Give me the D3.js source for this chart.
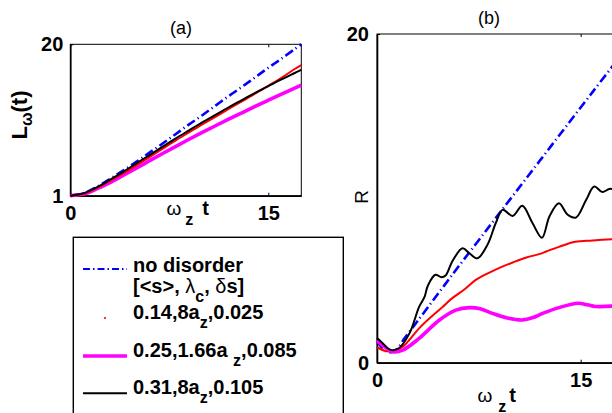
<!DOCTYPE html>
<html>
<head>
<meta charset="utf-8">
<script src="https://cdn.jsdelivr.net/npm/d3@7"></script>
<style>
  html, body { margin: 0; padding: 0; background: #fff; }
  svg { display: block; font-family: "Liberation Sans", Arial, Helvetica, sans-serif; }
  text { white-space: pre; }
</style>
</head>
<body>
<svg id="chart" width="612" height="413"></svg>
<script>
// ---------- panel (a): L_omega(t) against omega_z t ----------
const tA = [0, 1, 2, 3, 4, 5, 6, 7, 8, 9, 10, 11, 12, 13, 14, 15, 16, 17, 17.5];
const lNoDisorder = [1, 1.3, 2.1, 3.1, 4.15, 5.25, 6.4, 7.55, 8.75, 9.95, 11.1, 12.3, 13.5, 14.65, 15.85, 17.05, 18.2, 19.4, 20];
const lCase1 = [1, 1.25, 1.95, 2.85, 3.8, 4.8, 5.85, 6.9, 7.95, 8.95, 9.95, 10.9, 11.9, 12.85, 13.8, 14.8, 15.8, 16.9, 17.4];
const lCase2 = [1, 1.2, 1.85, 2.65, 3.55, 4.45, 5.38, 6.3, 7.2, 8.08, 8.94, 9.78, 10.6, 11.4, 12.2, 12.98, 13.75, 14.5, 14.88];
const lCase3 = [1, 1.3, 2.05, 3.0, 4.0, 5.05, 6.1, 7.15, 8.2, 9.2, 10.2, 11.15, 12.1, 13.0, 13.9, 14.75, 15.6, 16.4, 16.8];
const xTicksA = [0, 15];
const yTicksA = [1, 20];

// ---------- panel (b): R against omega_z t ----------
const tB0 = [0, 0.5, 0.9, 1.5, 2, 2.5, 3, 4, 5, 6, 8, 10, 12, 14, 16, 17.5];
const rNoDisorder = [1.3, 0.8, 0.62, 0.85, 1.45, 2.0, 2.55, 3.65, 4.75, 5.85, 8.0, 10.15, 12.3, 14.45, 16.6, 18.2];

const tB1 = [0, 0.6, 1.15, 1.9, 3.1, 4.0, 4.85, 5.5, 6.5, 7.3, 8.2, 9.1, 10.0, 11.0, 12.0, 12.5, 13.4, 14.6, 15.9, 17.5];
const rCase1 = [0.94, 0.72, 0.67, 0.97, 2.09, 2.8, 3.41, 3.9, 4.5, 5.05, 5.45, 5.8, 6.1, 6.4, 6.62, 6.78, 7.05, 7.36, 7.44, 7.52];

const tB2 = [0, 0.55, 1.15, 1.9, 3.1, 4.6, 5.8, 6.8, 7.6, 8.5, 9.6, 10.7, 11.5, 12.2, 13.4, 14.8, 15.5, 16.1, 17.5];
const rCase2 = [1.34, 0.97, 0.67, 0.77, 1.48, 2.6, 3.2, 3.35, 3.28, 3.0, 2.72, 2.6, 2.75, 3.0, 3.35, 3.62, 3.52, 3.42, 3.45];

const tB3 = [0, 0.4, 1.0, 1.6, 2.4, 3.1, 3.5, 3.75, 4.3, 4.75, 5.05, 5.57, 6.3, 6.8, 7.4, 8.15, 8.75, 9.25, 10.0, 10.7, 11.45, 12.15, 12.7, 13.4, 14.05, 14.65, 15.4, 16.0, 16.6, 17.1, 17.5];
const rCase3 = [1.5, 1.2, 0.78, 0.88, 1.8, 3.4, 4.0, 4.7, 5.35, 5.2, 5.3, 6.2, 6.96, 6.66, 6.35, 7.2, 8.5, 9.3, 8.93, 9.55, 8.5, 7.6, 8.9, 9.7, 9.0, 8.83, 9.9, 10.72, 10.38, 10.57, 10.55];
const xTicksB = [0, 15];
const yTicksB = [0, 20];

// ---------- legend ----------
const legendLabels = [
  "no disorder",
  "[<s>, λ_{c}, δs]",
  "0.14,8a_{z},0.025",
  "0.25,1.66a _{z},0.085",
  "0.31,8a_{z},0.105"
];

const svg = d3.select("#chart");

const colors = { none: "#0000ff", c1: "#ff0000", c2: "#ff00ff", c3: "#000000" };

const xA = d3.scaleLinear().domain([0, 17.5]).range([70.3, 301.3]);
const yA = d3.scaleLinear().domain([1, 20]).range([195.7, 44.3]);
const xB = d3.scaleLinear().domain([0, 17.5]).range([377, 614.6]);
const yB = d3.scaleLinear().domain([0, 20]).range([362.7, 34]);

function drawFrame(x, y, xt, yt, yPad) {
  const g = svg.append("g");
  const [x0, x1] = x.range();
  const [y0, y1] = y.range();
  g.append("rect")
    .attr("x", x0).attr("y", y1)
    .attr("width", x1 - x0).attr("height", y0 - y1)
    .attr("fill", "none").attr("stroke", "#000").attr("stroke-width", 1);

  const bottom = g.append("g").attr("transform", `translate(0,${y0})`)
    .call(d3.axisBottom(x).tickValues(xt).tickFormat(d3.format("d"))
      .tickSizeInner(-3).tickSizeOuter(0).tickPadding(10.3));
  const top = g.append("g").attr("transform", `translate(0,${y1})`)
    .call(d3.axisTop(x).tickValues(xt).tickFormat("").tickSizeInner(-3).tickSizeOuter(0));
  const left = g.append("g").attr("transform", `translate(${x0},0)`)
    .call(d3.axisLeft(y).tickValues(yt).tickFormat(d3.format("d"))
      .tickSizeInner(-3).tickSizeOuter(0).tickPadding(yPad));

  [bottom, left].forEach(a => {
    a.select(".domain").attr("stroke", "#000").attr("stroke-width", 1.6);
    a.selectAll(".tick line").attr("stroke", "#000");
    a.selectAll(".tick text")
      .attr("fill", "#000")
      .style("font-size", "20px")
      .style("font-weight", "bold")
      .style("font-family", "\"Liberation Sans\", Arial, sans-serif");
  });
  top.select(".domain").remove();
  top.selectAll(".tick line").attr("stroke", "#000");
  return g;
}

function drawSeries(x, y, ts, vs, color, width, dash) {
  const pts = ts.map((t, i) => [t, vs[i]]);
  const line = d3.line()
    .x(d => x(d[0])).y(d => y(d[1]))
    .curve(d3.curveCatmullRom.alpha(0.5));
  const p = svg.append("path")
    .datum(pts)
    .attr("d", line)
    .attr("fill", "none")
    .attr("stroke", color)
    .attr("stroke-width", width)
    .attr("stroke-linejoin", "round");
  if (dash) p.attr("stroke-dasharray", dash);
}

const dashDot = "9,3.5,1.2,3.5";

// panel (a)
drawFrame(xA, yA, xTicksA, yTicksA, 7);
drawSeries(xA, yA, tA, lNoDisorder, colors.none, 2.6, dashDot);
drawSeries(xA, yA, tA, lCase2, colors.c2, 3.6);
drawSeries(xA, yA, tA, lCase1, colors.c1, 2);
drawSeries(xA, yA, tA, lCase3, colors.c3, 2);

// panel (b)
drawFrame(xB, yB, xTicksB, yTicksB, 8);
drawSeries(xB, yB, tB0, rNoDisorder, colors.none, 2.6, dashDot);
drawSeries(xB, yB, tB1, rCase1, colors.c1, 2);
drawSeries(xB, yB, tB2, rCase2, colors.c2, 3.6);
drawSeries(xB, yB, tB3, rCase3, colors.c3, 2);

// titles
svg.append("text").attr("x", 181).attr("y", 33.5).attr("text-anchor", "middle")
  .style("font-size", "18px").text("(a)");
svg.append("text").attr("x", 489).attr("y", 24).attr("text-anchor", "middle")
  .style("font-size", "18px").text("(b)");

// x labels: omega_z t
function xLabel(x0, base, gap1, gap2) {
  const t = svg.append("text").attr("x", x0).attr("y", base);
  t.append("tspan").style("font-size", "19px").text("ω");
  t.append("tspan").attr("dx", gap1).attr("dy", 10)
    .style("font-size", "16px").style("font-weight", "bold").text("z");
  t.append("tspan").attr("dx", gap2).attr("dy", -10)
    .style("font-size", "20px").style("font-weight", "bold").text("t");
}
xLabel(166.5, 214.5, 4, 9);
xLabel(477.5, 402, 6, 3);

// y label of panel (a): L_omega(t)
{
  const t = svg.append("text")
    .attr("transform", "translate(27,115) rotate(-90)")
    .attr("text-anchor", "middle")
    .style("font-weight", "bold");
  t.append("tspan").style("font-size", "22px").text("L");
  t.append("tspan").attr("dy", 5).style("font-size", "16px").text("ω");
  t.append("tspan").attr("dy", -5).style("font-size", "22px").text("(t)");
}
// y label of panel (b)
svg.append("text")
  .attr("transform", "translate(368,197) rotate(-90)")
  .attr("text-anchor", "middle")
  .style("font-size", "19px")
  .text("R");

// legend box
const lg = svg.append("g");
lg.append("rect")
  .attr("x", 73.3).attr("y", 237.3)
  .attr("width", 270).attr("height", 220)
  .attr("fill", "#fff").attr("stroke", "#000").attr("stroke-width", 1.4);

const rowBase = [271.5, 292.5, 319, 357, 394];

function parseLabel(s) {
  const parts = s.split(/_\{([^}]*)\}/);
  const segs = [];
  parts.forEach((p, i) => {
    if (!p) return;
    if (i % 2 === 1) { segs.push({ text: p, sub: true, greek: false }); return; }
    // split ordinary text into Greek / non-Greek runs
    const runs = p.match(/[\u0370-\u03ff]+|[^\u0370-\u03ff]+/g);
    runs.forEach(r => segs.push({ text: r, sub: false, greek: /[\u0370-\u03ff]/.test(r) }));
  });
  return segs;
}

legendLabels.forEach((lab, i) => {
  const t = lg.append("text")
    .attr("x", 133).attr("y", rowBase[i])
    .style("font-size", "20px").style("font-weight", "bold");
  let lowered = false;
  parseLabel(lab).forEach(seg => {
    const sp = t.append("tspan").text(seg.text);
    if (seg.sub && !lowered) { sp.attr("dy", 9).style("font-size", "16px"); lowered = true; }
    else if (seg.sub) { sp.style("font-size", "16px"); }
    else if (lowered) { sp.attr("dy", -9); lowered = false; }
    if (seg.greek) sp.style("font-weight", "normal");
  });
});

// legend samples
lg.append("line").attr("x1", 83).attr("x2", 127).attr("y1", 269).attr("y2", 269)
  .attr("stroke", colors.none).attr("stroke-width", 2.2).attr("stroke-dasharray", "7,3,1.5,3");
lg.append("circle").attr("cx", 105).attr("cy", 318).attr("r", 1.1).attr("fill", colors.c1);
lg.append("line").attr("x1", 83).attr("x2", 127).attr("y1", 356).attr("y2", 356)
  .attr("stroke", colors.c2).attr("stroke-width", 3.6);
lg.append("line").attr("x1", 83).attr("x2", 127).attr("y1", 393.3).attr("y2", 393.3)
  .attr("stroke", colors.c3).attr("stroke-width", 2);
</script>
</body>
</html>
